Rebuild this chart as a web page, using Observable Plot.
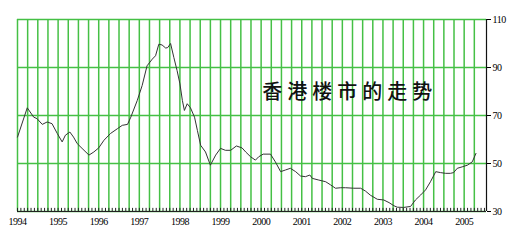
<!DOCTYPE html>
<html>
<head>
<meta charset="utf-8">
<script src="https://cdn.jsdelivr.net/npm/d3@7"></script>
<script src="https://cdn.jsdelivr.net/npm/@observablehq/plot@0.6"></script>
<style>
  html, body { margin: 0; padding: 0; background: #fff; }
  #chart { width: 519px; height: 241px; }
  svg { display: block; }
</style>
</head>
<body>
<div id="chart"></div>
<script>
// Decimal-year time points and index values
const times = [
  1994.0, 1994.24, 1994.40, 1994.48, 1994.61, 1994.73, 1994.85, 1994.98,
  1995.10, 1995.18, 1995.29, 1995.38, 1995.47, 1995.59, 1995.76, 1995.88,
  1996.0, 1996.13, 1996.29, 1996.46, 1996.58, 1996.71, 1996.79, 1996.95,
  1997.07, 1997.19, 1997.32, 1997.40, 1997.48, 1997.56, 1997.65, 1997.70,
  1997.77, 1997.85, 1997.93, 1998.0, 1998.06, 1998.11, 1998.18, 1998.26,
  1998.36, 1998.43, 1998.51, 1998.63, 1998.75, 1998.88, 1999.0, 1999.12,
  1999.25, 1999.39, 1999.53, 1999.62, 1999.74, 1999.86, 1999.94, 2000.05,
  2000.23, 2000.35, 2000.48, 2000.60, 2000.72, 2000.85, 2000.97, 2001.09,
  2001.2, 2001.26, 2001.42, 2001.59, 2001.71, 2001.83, 2001.96, 2002.08,
  2002.28, 2002.45, 2002.57, 2002.69, 2002.86, 2003.02, 2003.15, 2003.27,
  2003.35, 2003.51, 2003.68, 2003.80, 2003.93, 2004.05, 2004.17, 2004.30,
  2004.42, 2004.54, 2004.66, 2004.74, 2004.83, 2004.95, 2005.08, 2005.20,
  2005.29
];
const values = [
  61, 73.2, 69.3, 68.7, 66.3, 67.3, 66.6, 62.5,
  59, 61.8, 63.1, 61, 58.3, 56.3, 53.5, 54.8,
  56.5, 59.7, 62.5, 64.5, 65.9, 66.3, 69.3, 76.3,
  82.5, 90.7, 93.5, 94.9, 99.7, 99.4, 98.1, 98.3,
  100, 94.2, 88.7, 83.2, 76.3, 72.1, 74.9, 73.2,
  69.3, 63.8, 57.6, 54.8, 49.3, 53.5, 56.3, 55.5,
  55.5, 57.3, 56.5, 54.8, 52.8, 51.4, 52.8, 53.9,
  53.9, 50.7, 46.6, 47.3, 48, 46.6, 44.8, 44.5,
  45.2, 43.8, 43.1, 42.4, 41.1, 39.7, 39.9, 39.9,
  39.7, 39.7, 38.5, 36.8, 35.1, 34.8, 33.7, 32.4,
  31.8, 31.7, 32.1, 34.8, 36.9, 39, 42.4, 46.6,
  46.2, 45.9, 45.9, 46.2, 48, 48.6, 49.3, 50.7,
  54.2
];
const yearTicks = [1994, 1995, 1996, 1997, 1998, 1999, 2000, 2001, 2002, 2003, 2004, 2005];
const yTicks = [30, 50, 70, 90, 110];
const xMin = 1994, xMax = 2005.55;
const yMin = 30, yMax = 110;
const title = "香港楼市的走势";
const titleAt = [{x: 2002.18, y: 79.6}];

const data = times.map((t, i) => ({t, v: values[i]}));
const quarters = d3.range(xMin, 2005.26, 0.25);
const months = d3.range(xMin, xMax, 1 / 12);

const green = "#45c045";
const serif = "'Liberation Serif', 'DejaVu Serif', serif";

const chart = Plot.plot({
  width: 519,
  height: 241,
  marginLeft: 17,
  marginRight: 33,
  marginTop: 19,
  marginBottom: 30,
  style: {background: "#fff", fontFamily: serif, fontSize: "10px", color: "#000"},
  x: {domain: [xMin, xMax], label: null},
  y: {domain: [yMin, yMax], label: null},
  marks: [
    Plot.ruleX(quarters, {stroke: green, strokeWidth: 1.5}),
    Plot.ruleY(yTicks, {stroke: green, strokeWidth: 1.5}),
    Plot.ruleY([yMin], {stroke: "#222", strokeWidth: 1}),
    Plot.ruleX(months, {y1: yMin, y2: yMin + 1.3, stroke: "#222", strokeWidth: 1}),
    Plot.ruleX([xMax], {stroke: "#111", strokeWidth: 1.2}),
    Plot.axisX({ticks: yearTicks, tickFormat: d => String(d), tickSize: 0, tickPadding: 6,
      fontFamily: serif, fontSize: 10, label: null}),
    Plot.axisY({anchor: "right", ticks: yTicks, tickSize: 4, tickPadding: 2,
      fontFamily: serif, fontSize: 10, label: null}),
    Plot.line(data, {x: "t", y: "v", stroke: "#333", strokeWidth: 1}),
    Plot.text(titleAt, {x: "x", y: "y", text: () => title,
      fontFamily: "'Noto Sans CJK SC', sans-serif", fontSize: 20, fontWeight: 500, fill: "#111"})
  ]
});
// widen the title's character spacing as in the reference
d3.select(chart).selectAll("text")
  .filter(function () { return this.textContent === title; })
  .attr("letter-spacing", "5px");
d3.select(chart).selectAll("text")
  .filter(function () { return /^\d{2,4}$/.test(this.textContent); })
  .attr("letter-spacing", "-0.5px");
document.getElementById("chart").append(chart);
</script>
</body>
</html>
